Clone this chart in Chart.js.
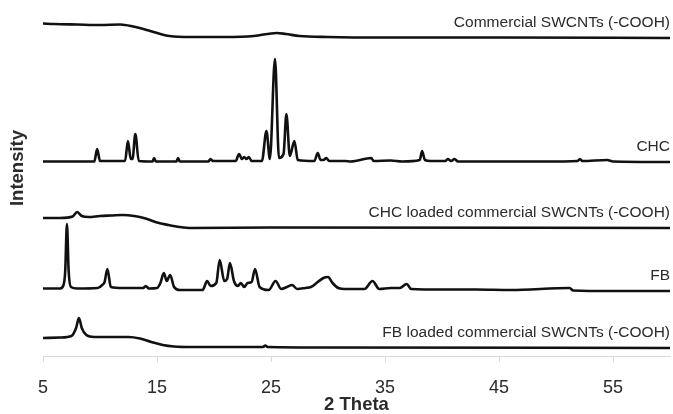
<!DOCTYPE html>
<html>
<head>
<meta charset="utf-8">
<script src="https://cdn.jsdelivr.net/npm/chart.js@4.4.1/dist/chart.umd.min.js"></script>
<style>
  html, body { margin: 0; padding: 0; background: #ffffff; }
  #wrap { width: 673px; height: 414px; }
</style>
</head>
<body>
<div id="wrap"><canvas id="xrd-chart" width="673" height="414"></canvas></div>
<script>
// 2 theta tick labels
const tickValues = [5, 15, 25, 35, 45, 55];

// sample names, top to bottom
const sampleNames = [
  "Commercial SWCNTs (-COOH)",
  "CHC",
  "CHC loaded commercial SWCNTs (-COOH)",
  "FB",
  "FB loaded commercial SWCNTs (-COOH)",
];

// vertical offset of each pattern in the stack (arbitrary units)
const stackOffsets = [318, 194, 128, 65, 8];

// Commercial SWCNTs (-COOH)
const swcntTheta = [5, 6, 8, 10, 11.8, 12.9, 14.4, 15.3, 16.1, 17.9, 21, 23.5, 25.5, 26.3, 27.5, 30, 35, 45, 60];
const swcntIntensity = [14.5, 14, 13.5, 13, 13.5, 11.5, 7, 4, 2, 1, 1, 2, 5, 4, 2, 1, 0.5, 0.5, 0];

// CHC
const chcTheta = [5, 9.5, 9.75, 10.0, 12.2, 12.45, 12.7, 12.85, 13.1, 13.4, 14.6, 14.75, 14.9, 16.7, 16.85, 17.0,
  19.5, 19.7, 19.9, 21.9, 22.2, 22.45, 22.65, 22.85, 23.05, 23.3, 24.2, 24.6, 24.9, 25.35, 25.7, 26.1, 26.35,
  26.65, 27.05, 27.35, 28.8, 29.1, 29.35, 29.6, 29.85, 30.1, 31.5, 32, 33.8, 34.0, 35.5, 36.5, 38.05, 38.25,
  38.5, 39, 40.3, 40.5, 40.8, 41.1, 41.4, 44, 49, 51.9, 52.1, 52.3, 54.5, 55, 60];
const chcIntensity = [0.5, 0.5, 13, 1, 1, 21, 3, 3, 28, 1, 0.5, 4, 0.5, 0.5, 4, 0.5,
  0.5, 3, 1, 1, 8, 3, 5, 3, 5, 1, 1, 31, 3, 103, 4, 8, 48,
  6, 21, 2, 1, 9, 2, 2, 4, 1, 1, 0.5, 4, 1, 1.5, 0.5, 2, 11,
  2, 1, 1, 3, 1, 3, 0.5, 0.5, 0.5, 1, 3, 1, 2, 0.5, 0];

// CHC loaded commercial SWCNTs (-COOH)
const chcLoadedTheta = [5, 6.5, 7.6, 8.0, 8.4, 9, 10, 11, 12, 13, 14, 15, 16, 17, 18, 25, 60];
const chcLoadedIntensity = [10, 10, 11.5, 16, 12, 11, 12, 12.5, 13, 12, 9.5, 5.5, 3, 1, 0, 0.5, 0];

// FB
const fbTheta = [5, 6.5, 6.8, 6.95, 7.1, 7.25, 7.45, 8, 9.8, 10.2, 10.4, 10.65, 10.95, 12, 13.8, 14.0, 14.3,
  15.0, 15.3, 15.6, 15.85, 16.15, 16.5, 17, 19, 19.4, 19.7, 20.2, 20.5, 20.9, 21.15, 21.4, 21.75, 22.1,
  22.35, 22.65, 22.95, 23.3, 23.6, 24.0, 24.8, 25.4, 25.9, 26.4, 26.85, 27.3, 28.0, 28.5, 29.1, 29.6,
  30.0, 30.4, 30.9, 31.5, 33.2, 33.9, 34.5, 35.5, 36.3, 36.9, 37.3, 40, 43, 46, 51.2, 51.5, 55, 60];
const fbIntensity = [2.5, 2.5, 6, 20, 67, 20, 4, 2.5, 3, 6, 9, 22, 4, 3, 3, 5, 2.5,
  3, 8, 18, 10, 16, 4, 1, 1, 10, 5, 8, 31, 10, 12, 28, 10, 5,
  8, 4, 8, 9, 22, 4, 1, 10, 2, 4, 6, 2, 3, 4, 9, 13,
  14, 8, 3, 2, 2, 10, 2, 3, 3, 7, 2, 1.5, 1.5, 1, 3, 0.5, 0, 0];

// FB loaded commercial SWCNTs (-COOH)
const fbLoadedTheta = [5, 6.5, 7.5, 7.9, 8.15, 8.4, 8.8, 9.5, 11, 12.5, 13.5, 14.5, 15.5, 16.5, 18, 24.3, 24.5, 24.7, 30, 60];
const fbLoadedIntensity = [10, 10.5, 12, 20, 30, 20, 13, 11, 11, 11, 9.5, 6, 3, 1.5, 1, 1, 2.5, 1, 0.5, 0];

const seriesTheta = [swcntTheta, chcTheta, chcLoadedTheta, fbTheta, fbLoadedTheta];
const seriesIntensity = [swcntIntensity, chcIntensity, chcLoadedIntensity, fbIntensity, fbLoadedIntensity];

function buildPoints(thetas, values, offset) {
  return thetas.map(function (t, i) {
    return { x: t, y: values[i] + offset };
  });
}

// writes the sample name above the right end of each trace, and the y title
const traceLabels = {
  id: "traceLabels",
  afterDraw: function (chart) {
    const ctx = chart.ctx;
    const yScale = chart.scales.y;
    const right = chart.chartArea.right;
    ctx.save();
    ctx.fillStyle = "#2b2b2b";
    ctx.font = "15.5px 'Liberation Sans', Arial, sans-serif";
    ctx.textAlign = "right";
    ctx.textBaseline = "middle";
    sampleNames.forEach(function (name, i) {
      const y = yScale.getPixelForValue(stackOffsets[i]) - 15;
      ctx.fillText(name, right, y);
    });

    ctx.translate(18, 168);
    ctx.rotate(-Math.PI / 2);
    ctx.textAlign = "center";
    ctx.font = "bold 18.5px 'Liberation Sans', Arial, sans-serif";
    ctx.fillText("Intensity", 0, 0);
    ctx.restore();
  },
};

document.addEventListener("DOMContentLoaded", function () {
  const canvas = document.getElementById("xrd-chart");

  const datasets = seriesTheta.map(function (thetas, i) {
    return {
      label: sampleNames[i],
      data: buildPoints(thetas, seriesIntensity[i], stackOffsets[i]),
      borderColor: "#111111",
      borderWidth: 2.6,
      pointRadius: 0,
      fill: false,
      cubicInterpolationMode: "monotone",
      clip: false,
    };
  });

  new Chart(canvas, {
    type: "line",
    data: { datasets: datasets },
    plugins: [traceLabels],
    options: {
      responsive: false,
      animation: false,
      layout: { padding: { left: 43, right: 3, top: 0, bottom: 0 } },
      plugins: {
        legend: { display: false },
        tooltip: { enabled: false },
      },
      scales: {
        x: {
          type: "linear",
          min: 5,
          max: 60,
          afterBuildTicks: function (axis) {
            axis.ticks = tickValues.map(function (v) {
              return { value: v };
            });
          },
          afterFit: function (axis) {
            axis.height = 58;
          },
          grid: {
            drawOnChartArea: false,
            drawTicks: true,
            tickLength: 6,
            color: "#d9d9d9",
          },
          border: { color: "#d9d9d9", width: 1 },
          ticks: {
            color: "#2b2b2b",
            padding: 16,
            maxRotation: 0,
            font: { family: "'Liberation Sans', Arial, sans-serif", size: 18, lineHeight: 1.1 },
          },
          title: {
            display: true,
            text: "2 Theta",
            color: "#2b2b2b",
            padding: { top: 0, bottom: 0 },
            font: { family: "'Liberation Sans', Arial, sans-serif", size: 18.5, weight: "bold", lineHeight: 1.0 },
          },
        },
        y: {
          display: false,
          min: 0,
          max: 356,
        },
      },
    },
  });
});
</script>
</body>
</html>
